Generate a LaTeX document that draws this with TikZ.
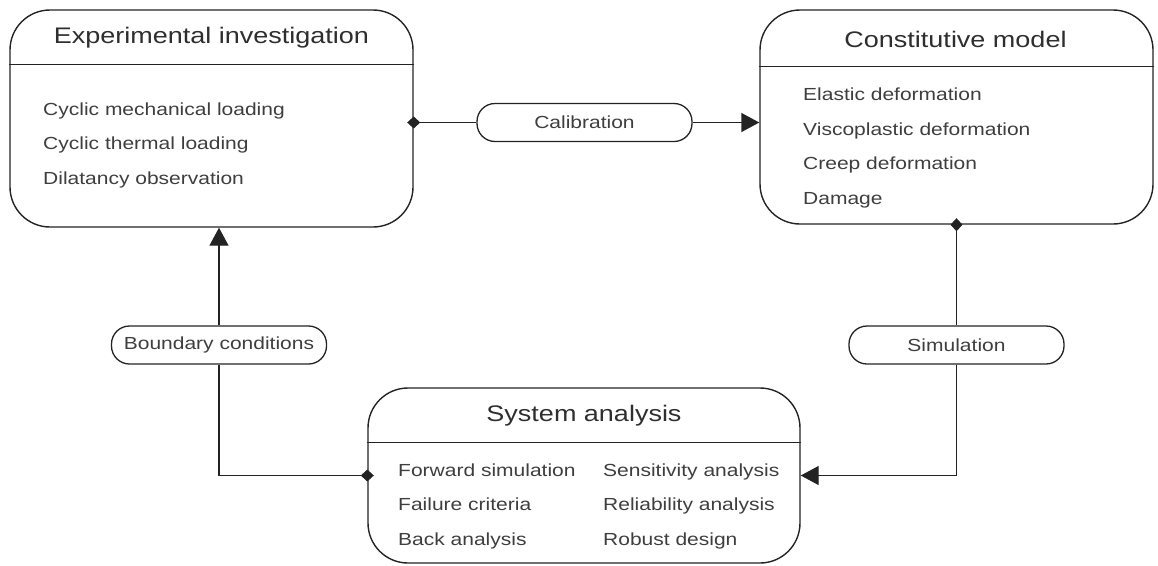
\documentclass[tikz,border=0pt]{standalone}
\usepackage{fontspec}
\setmainfont{Liberation Sans}[FakeStretch=1.2]
\usepackage{xcolor}
\definecolor{ColLine}{RGB}{35,35,35}
\definecolor{ColText}{RGB}{62,62,62}
\usepackage{tikz}
\usetikzlibrary{arrows.meta}
\tikzstyle{Box}=[draw=ColLine,line width=1.4pt,rounded corners=40pt,inner sep=0pt]
\tikzstyle{Pill}=[draw=ColLine,line width=1.3pt,rounded corners=18pt,
minimum width=215pt,minimum height=38pt,inner sep=0pt,text=ColText,
font=\fontsize{17.5}{20}\selectfont]
\tikzstyle{Edge}=[draw=ColLine,line width=1.4pt]
\tikzstyle{Title}=[text=ColText!75!black,font=\fontsize{22.5}{27}\selectfont]
\tikzstyle{Items}=[text=ColText,align=left,anchor=base west,inner sep=0pt,
font=\fontsize{17.5}{34.5}\selectfont]
\tikzstyle{Source}=[{Diamond[length=13pt,width=12pt]}-,shorten <=-6.5pt]
\tikzstyle{Target}=[-{Triangle[length=18pt,width=19pt]}]

\begin{document}
\begin{tikzpicture}[x=1pt,y=-1pt]
        \useasboundingbox (0,0) rectangle (1158,565);
        % boxes
        \node[Box,minimum width=403pt,minimum height=217pt](exp)at(211.5,118.5){};
        \node[Box,minimum width=393pt,minimum height=214pt](con)at(956.5,117.0){};
        \node[Box,minimum width=432pt,minimum height=175pt](sys)at(584.0,475.5){};
        \draw[Edge]([yshift=-55pt]exp.north west)--([yshift=-55pt]exp.north east);
        \draw[Edge]([yshift=-57pt]con.north west)--([yshift=-57pt]con.north east);
        \draw[Edge]([yshift=-55pt]sys.north west)--([yshift=-55pt]sys.north east);
        \node[Title](expT)at(211.5,38){Experimental investigation};
        \node[Title](conT)at(955.5,39){Constitutive model};
        \node[Title](sysT)at(584.0,416){System analysis};
        % lists: base is the last line
        \node[Items](expL)at(43,184){Cyclic mechanical loading\\Cyclic thermal loading\\Dilatancy observation};
        \node[Items](conL)at(803,204){Elastic deformation\\Viscoplastic deformation\\Creep deformation\\Damage};
        \node[Items](sysL)at(398,545){Forward simulation\\Failure criteria\\Back analysis};
        \node[Items](sysR)at(603,545){Sensitivity analysis\\Reliability analysis\\Robust design};
        % labels
        \node[Pill](cal)at(584.5,122.5){Calibration};
        \node[Pill](sim)at(956.5,345){Simulation};
        \node[Pill](bnd)at(219,345){Boundary conditions};
        % links
        \draw[Edge,Source](cal.west -| exp.east)--(cal.west);
        \draw[Edge,Target](cal.east)--(cal.east -| con.west);
        \draw[Edge,Source](con.south)--(sim.north);
        \draw[Edge,Target](sim.south)|-(sys.east);
        \draw[Edge,Source](sys.west)-|(bnd.south);
        \draw[Edge,Target](bnd.north)--(bnd.north |- exp.south);
    \end{tikzpicture}
\end{document}
